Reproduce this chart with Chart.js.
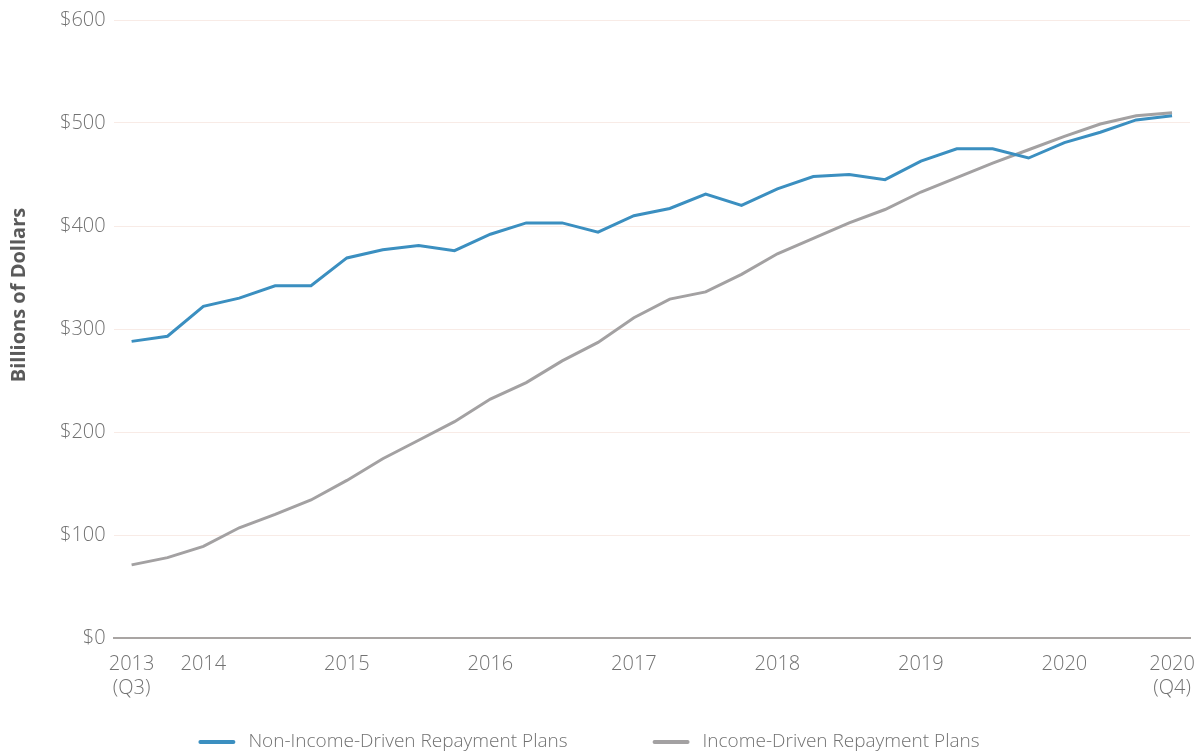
<!DOCTYPE html>
<html>
<head>
<meta charset="utf-8">
<script src="https://cdn.jsdelivr.net/npm/chart.js@4/dist/chart.umd.min.js"></script>
<style>
  html, body { margin: 0; padding: 0; background: #ffffff; }
  #chart { display: block; }
</style>
</head>
<body>
<canvas id="chart" width="1199" height="753"></canvas>
<script>
// Quarterly, 2013 Q3 .. 2020 Q4 (index 0..29)
const quarters = Array.from({ length: 30 }, function(_, i) { return i; });

const nonIdrValues = [288, 293, 322, 330, 342, 342, 369, 377, 381, 376,
  392, 403, 403, 394, 410, 417, 431, 420, 436, 448,
  450, 445, 463, 475, 475, 466, 481, 491, 503, 507];

const idrValues = [71, 78, 89, 107, 120, 134, 153, 174, 192, 210,
  232, 248, 269, 287, 311, 329, 336, 353, 373, 388,
  403, 416, 433, 447, 461, 474, 487, 499, 507, 510];

const xTickPositions = [0, 2, 6, 10, 14, 18, 22, 26, 29];
const xTickLabels = [['2013', '(Q3)'], '2014', '2015', '2016', '2017', '2018', '2019', '2020', ['2020', '(Q4)']];

const seriesNames = ['Non-Income-Driven Repayment Plans', 'Income-Driven Repayment Plans'];
const yTitle = 'Billions of Dollars';

const blue = '#3b8fc0';
const gray = '#a3a1a2';
const textColor = '#727272';
const tickFont = { family: 'Open Sans', size: 20, weight: '300' };

function toPoints(values) {
  return values.map(function(v, i) { return { x: quarters[i], y: v }; });
}

// Rotated y-axis title; it sits a little above the plot centre in the original
const yTitlePlugin = {
  id: 'yTitle',
  afterDraw: function(chart) {
    const c = chart.ctx;
    c.save();
    c.translate(19, 295);
    c.rotate(-Math.PI / 2);
    c.fillStyle = '#5a5a5a';
    c.font = 'bold 20px "Open Sans"';
    c.textAlign = 'center';
    c.textBaseline = 'middle';
    c.fillText(yTitle, 0, 0);
    c.restore();
  }
};

// Bottom legend with the wide gap between the two entries
const bottomLegend = {
  id: 'bottomLegend',
  afterDraw: function(chart) {
    const c = chart.ctx;
    const y = 742;
    const lineW = 37;
    const textGap = 13;
    const itemGap = 85;
    c.save();
    c.font = '300 19px "Open Sans"';
    c.textBaseline = 'middle';
    const items = chart.data.datasets.map(function(ds) {
      return { label: ds.label, color: ds.borderColor, w: lineW + textGap + c.measureText(ds.label).width };
    });
    const total = items.reduce(function(s, it) { return s + it.w; }, 0) + itemGap * (items.length - 1);
    let x = 589 - total / 2;
    items.forEach(function(it) {
      c.strokeStyle = it.color;
      c.lineWidth = 4;
      c.lineCap = 'round';
      c.beginPath();
      c.moveTo(x + 2, y);
      c.lineTo(x + lineW - 2, y);
      c.stroke();
      c.fillStyle = textColor;
      c.fillText(it.label, x + lineW + textGap, y);
      x += it.w + itemGap;
    });
    c.restore();
  }
};

const ctx = document.getElementById('chart').getContext('2d');

new Chart(ctx, {
  type: 'line',
  data: {
    datasets: [{
      label: seriesNames[0],
      data: toPoints(nonIdrValues),
      borderColor: blue,
      backgroundColor: blue,
      borderWidth: 3,
      pointRadius: 0,
      tension: 0
    }, {
      label: seriesNames[1],
      data: toPoints(idrValues),
      borderColor: gray,
      backgroundColor: gray,
      borderWidth: 3,
      pointRadius: 0,
      tension: 0
    }]
  },
  plugins: [bottomLegend, yTitlePlugin],
  options: {
    responsive: false,
    animation: false,
    layout: {
      padding: { left: 52, right: 9, top: 8, bottom: 39 }
    },
    plugins: {
      legend: { display: false },
      tooltip: { enabled: false }
    },
    scales: {
      x: {
        type: 'linear',
        min: -0.5,
        max: 29.5,
        afterBuildTicks: function(axis) {
          axis.ticks = xTickPositions.map(function(v) { return { value: v }; });
        },
        afterFit: function(axis) {
          // last label may run a few px past the plot edge, as in the original
          axis.paddingRight = 0;
        },
        ticks: {
          color: textColor,
          font: tickFont,
          maxRotation: 0,
          autoSkip: false,
          padding: 14,
          callback: function(value) {
            const idx = xTickPositions.indexOf(value);
            return idx >= 0 ? xTickLabels[idx] : '';
          }
        },
        grid: { display: false, drawTicks: false },
        border: { color: '#a9a5a3', width: 2 }
      },
      y: {
        min: 0,
        max: 600,
        ticks: {
          stepSize: 100,
          color: textColor,
          font: tickFont,
          padding: 8,
          callback: function(value) { return '$' + value; }
        },
        grid: {
          color: function(c) { return c.tick.value === 0 ? 'rgba(0,0,0,0)' : '#f8ebe6'; },
          drawTicks: false,
          lineWidth: 1
        },
        border: { display: false }
      }
    }
  }
});
</script>
</body>
</html>
